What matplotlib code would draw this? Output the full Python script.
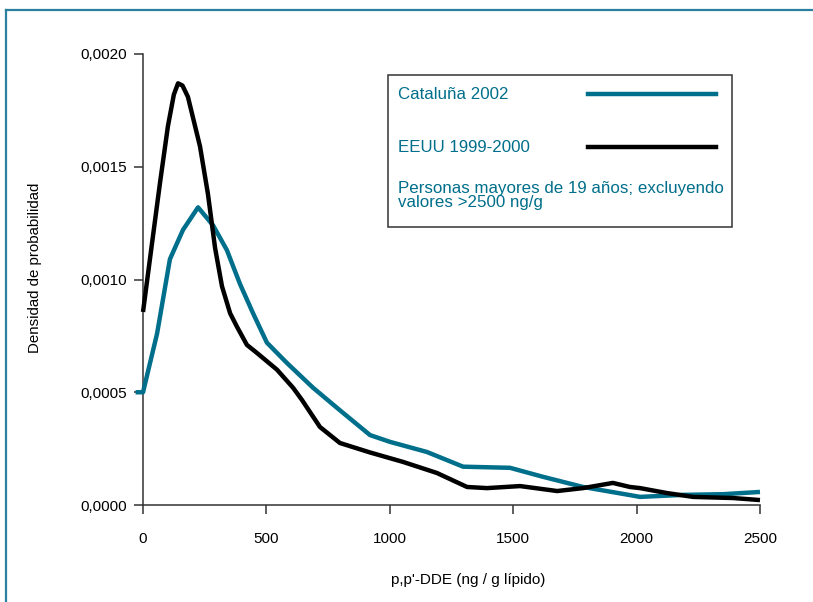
import numpy as np
import matplotlib
matplotlib.use('Agg')
import matplotlib.pyplot as plt
from matplotlib.lines import Line2D
from matplotlib.patches import Rectangle
from matplotlib.ticker import FuncFormatter

plt.rcParams['font.family'] = ['Liberation Sans', 'DejaVu Sans']

# Datos
cat_x = [-30, 0, 57, 109, 162, 223, 284, 340, 393, 446, 502, 583, 689, 798,
         920, 1001, 1151, 1297, 1487, 1621, 1783, 1973, 2014, 2188, 2350, 2500]
cat_y = [0.0005, 0.0005, 0.00076, 0.00109, 0.00122, 0.00132, 0.00124, 0.00113,
         0.00098, 0.00085, 0.00072, 0.00063, 0.00052, 0.00042, 0.00031, 0.00028,
         0.000235, 0.00017, 0.000165, 0.000125, 0.00008, 0.000044, 0.000036,
         0.000045, 0.000048, 0.000058]

usa_x = [0, 28, 69, 101, 125, 142, 160, 182, 231, 263, 292, 320, 353, 381, 421,
         462, 543, 608, 644, 717, 798, 920, 1054, 1191, 1313, 1394, 1528, 1678,
         1783, 1904, 1973, 2014, 2123, 2229, 2391, 2500]
usa_y = [0.000856, 0.00109, 0.00143, 0.00168, 0.00182, 0.00187, 0.00186, 0.00181,
         0.00159, 0.00138, 0.00114, 0.00097, 0.00085, 0.00079, 0.00071, 0.000674,
         0.0006, 0.00052, 0.000466, 0.000346, 0.000275, 0.000233, 0.000191,
         0.000142, 0.00008, 0.000075, 0.000084, 0.000062, 0.000075, 0.000098,
         0.00008, 0.000075, 0.000053, 0.000036, 0.000031, 0.000022]

x_ticks = [0, 500, 1000, 1500, 2000, 2500]
y_ticks = [0.0, 0.0005, 0.0010, 0.0015, 0.0020]

teal = '#006f8b'
frame_col = '#2a809f'

fig = plt.figure(figsize=(8.13, 6.02), dpi=100)
ax = fig.add_axes([0.1759, 0.1611, 0.7589, 0.7492])

ax.plot(cat_x, cat_y, color=teal, lw=3.2, solid_joinstyle='round',
        solid_capstyle='butt', clip_on=False, zorder=3)
ax.plot(usa_x, usa_y, color='black', lw=3.2, solid_joinstyle='round',
        solid_capstyle='butt', clip_on=False, zorder=4)

ax.set_xlim(0, 2500)
ax.set_ylim(0, 0.002)
ax.set_xticks(x_ticks)
ax.set_yticks(y_ticks)
ax.yaxis.set_major_formatter(FuncFormatter(lambda v, p: f'{v:.4f}'.replace('.', ',')))
for s in ['top', 'right']:
    ax.spines[s].set_visible(False)
for s in ['left', 'bottom']:
    ax.spines[s].set_color('#333333')
    ax.spines[s].set_linewidth(1.1)
ax.tick_params(direction='out', length=6.5, width=1.1, color='#333333',
               labelsize=11, pad=5)
ax.tick_params(axis='x', pad=13)

ax.set_xlabel("p,p'-DDE (ng / g lípido)", fontsize=11)
ax.set_ylabel('Densidad de probabilidad', fontsize=10.8)
ax.yaxis.set_label_coords(-0.163, 0.525)
ax.xaxis.set_label_coords(0.527, -0.151)

# Recuadro de leyenda
ax.add_patch(Rectangle((0.397, 0.616), 0.558, 0.337, transform=ax.transAxes,
                       fill=False, edgecolor='#333333', lw=1.1, zorder=5,
                       clip_on=False))
ax.text(0.413, 0.910, 'Cataluña 2002', transform=ax.transAxes, color=teal,
        fontsize=12.2, va='center')
ax.text(0.413, 0.792, 'EEUU 1999-2000', transform=ax.transAxes, color=teal,
        fontsize=12.2, va='center')
ax.text(0.413, 0.687, 'Personas mayores de 19 años; excluyendo\nvalores >2500 ng/g',
        transform=ax.transAxes, color=teal, fontsize=12.2, va='center',
        linespacing=0.92)
ax.add_line(Line2D([0.721, 0.928], [0.911, 0.911], transform=ax.transAxes,
                   color=teal, lw=3.2, clip_on=False))
ax.add_line(Line2D([0.721, 0.928], [0.793, 0.793], transform=ax.transAxes,
                   color='black', lw=3.2, clip_on=False))

# Marco exterior
fig.add_artist(Line2D([0.0074, 1.0], [0.9834, 0.9834], transform=fig.transFigure,
                      color=frame_col, lw=1.6))
fig.add_artist(Line2D([0.0074, 0.0074], [0.0, 0.9834], transform=fig.transFigure,
                      color=frame_col, lw=1.6))

plt.savefig('out.png', dpi=100)
